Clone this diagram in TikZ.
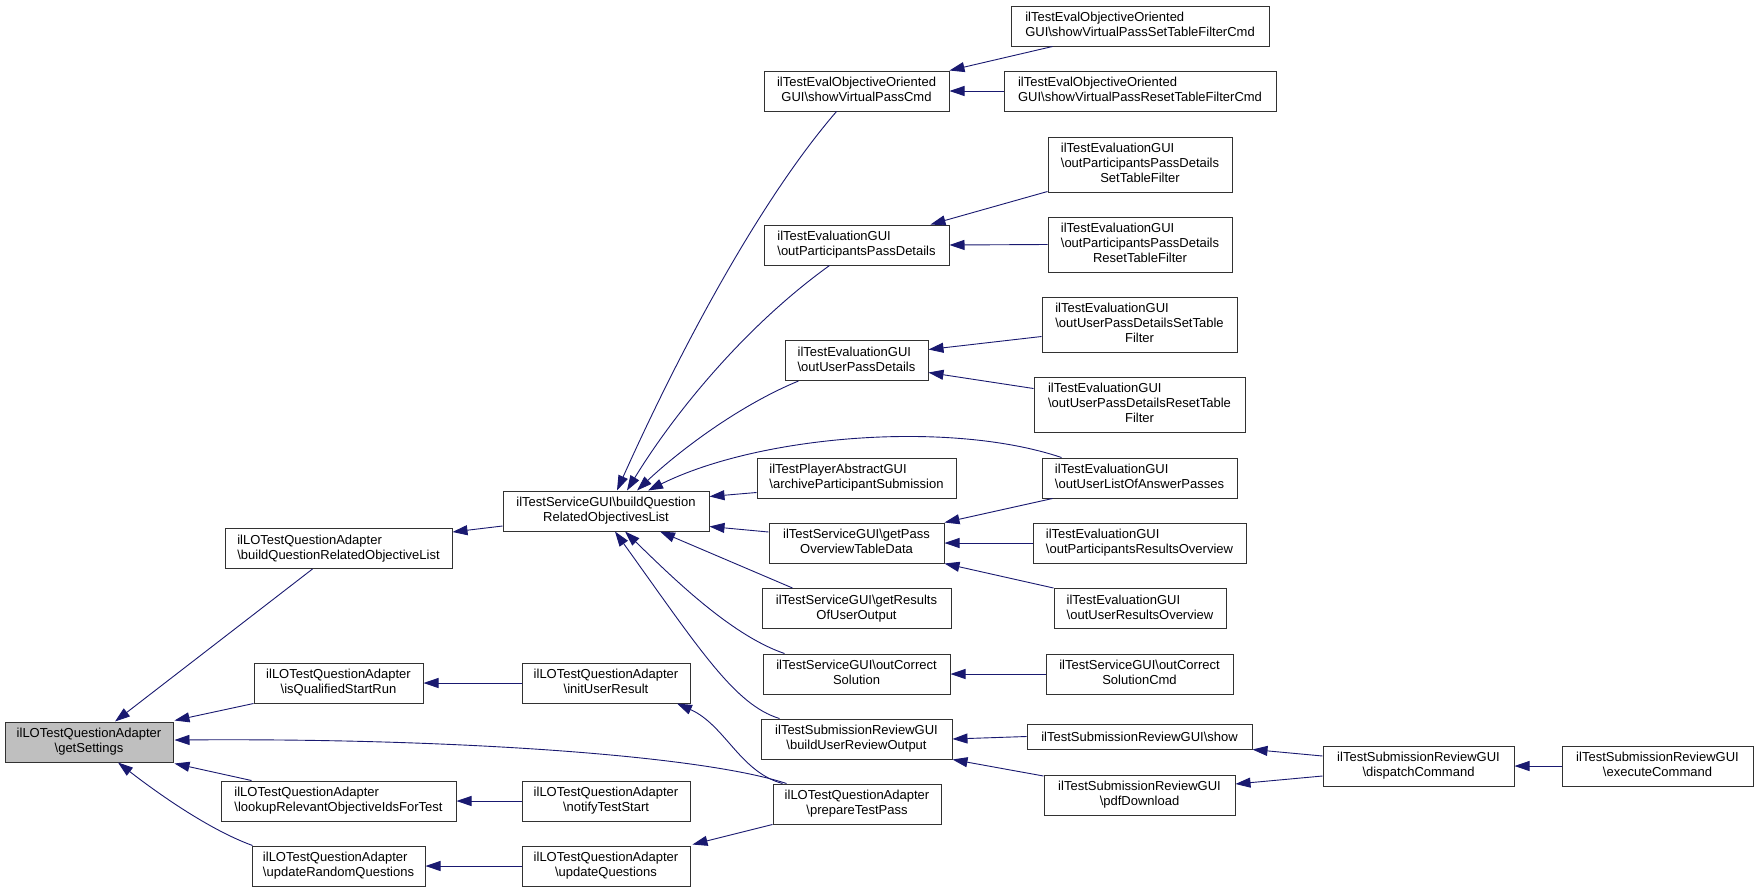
\documentclass[tikz,border=0pt]{standalone}
\usepackage{fontspec}
\setmainfont{Liberation Sans}
\usetikzlibrary{arrows.meta,calc}
\definecolor{edgec}{RGB}{25,25,112}
\definecolor{boxc}{RGB}{50,50,50}
\definecolor{gsfill}{RGB}{191,191,191}
\newcommand\fs{\fontsize{13}{15}\selectfont}
\newlength\wA \newlength\wB \newlength\wC
\newcommand\LL[2]{\settowidth\wA{#1}\settowidth\wB{#2}\ifdim\wB>\wA \wA=\wB\fi
 \begin{tabular}{@{}c@{}}\makebox[\wA][l]{#1}\\\makebox[\wA][c]{#2}\end{tabular}}
\newcommand\LLL[3]{\settowidth\wA{#1}\settowidth\wB{#2}\settowidth\wC{#3}\ifdim\wB>\wA \wA=\wB\fi\ifdim\wC>\wA \wA=\wC\fi
 \begin{tabular}{@{}c@{}}\makebox[\wA][l]{#1}\\\makebox[\wA][l]{#2}\\\makebox[\wA][c]{#3}\end{tabular}}
\newcommand\bs{\textbackslash}
\tikzset{
 box/.style={draw=boxc, line width=1pt, fill=white, inner sep=0pt, font=\fs, minimum height=40pt},
 tall/.style={minimum height=55pt},
 edge/.style={draw=edgec, line width=0.9pt, {Triangle[length=15pt,width=10pt]}-}
}
\begin{document}
\begin{tikzpicture}[x=1pt,y=-1pt]
\useasboundingbox[fill=white] (0,0) rectangle (1759,892);
% column 1
\node[box,fill=gsfill,minimum width=168pt] (gs) at (89,742) {\LL{ilLOTestQuestionAdapter}{\bs getSettings}};
% column 2
\node[box,minimum width=227pt] (bqol) at (338.5,548.5) {\LL{ilLOTestQuestionAdapter}{\bs buildQuestionRelatedObjectiveList}};
\node[box,minimum width=169pt] (isq) at (338.5,683) {\LL{ilLOTestQuestionAdapter}{\bs isQualifiedStartRun}};
\node[box,minimum width=235pt] (lookup) at (338.5,801) {\LL{ilLOTestQuestionAdapter}{\bs lookupRelevantObjectiveIdsForTest}};
\node[box,minimum width=173pt] (urq) at (338.5,866) {\LL{ilLOTestQuestionAdapter}{\bs updateRandomQuestions}};
% column 3
\node[box,minimum width=206pt] (bq) at (606,511) {\LL{ilTestServiceGUI\bs buildQuestion}{RelatedObjectivesList}};
\node[box,minimum width=168pt] (iur) at (606,683) {\LL{ilLOTestQuestionAdapter}{\bs initUserResult}};
\node[box,minimum width=168pt] (notify) at (606,801) {\LL{ilLOTestQuestionAdapter}{\bs notifyTestStart}};
\node[box,minimum width=168pt] (uq) at (606,866) {\LL{ilLOTestQuestionAdapter}{\bs updateQuestions}};
% column 4
\node[box,minimum width=185pt] (svp) at (856.5,91) {\LL{ilTestEvalObjectiveOriented}{GUI\bs showVirtualPassCmd}};
\node[box,minimum width=185pt] (opd) at (856.5,245) {\LL{ilTestEvaluationGUI}{\bs outParticipantsPassDetails}};
\node[box,minimum width=143pt] (oupd) at (856.5,360.5) {\LL{ilTestEvaluationGUI}{\bs outUserPassDetails}};
\node[box,minimum width=199pt] (arch) at (856.5,478) {\LL{ilTestPlayerAbstractGUI}{\bs archiveParticipantSubmission}};
\node[box,minimum width=175pt] (gpo) at (856.5,543) {\LL{ilTestServiceGUI\bs getPass}{OverviewTableData}};
\node[box,minimum width=189pt] (gro) at (856.5,608.5) {\LL{ilTestServiceGUI\bs getResults}{OfUserOutput}};
\node[box,minimum width=187pt] (ocs) at (856.5,674) {\LL{ilTestServiceGUI\bs outCorrect}{Solution}};
\node[box,minimum width=191pt] (buro) at (856.5,739) {\LL{ilTestSubmissionReviewGUI}{\bs buildUserReviewOutput}};
\node[box,minimum width=168pt] (ptp) at (857,804) {\LL{ilLOTestQuestionAdapter}{\bs prepareTestPass}};
% column 5
\node[box,minimum width=258pt] (svpset) at (1140,26) {\LL{ilTestEvalObjectiveOriented}{GUI\bs showVirtualPassSetTableFilterCmd}};
\node[box,minimum width=272pt] (svpreset) at (1140,91) {\LL{ilTestEvalObjectiveOriented}{GUI\bs showVirtualPassResetTableFilterCmd}};
\node[box,tall,minimum width=184pt] (opdset) at (1140,164.5) {\LLL{ilTestEvaluationGUI}{\bs outParticipantsPassDetails}{SetTableFilter}};
\node[box,tall,minimum width=184pt] (opdreset) at (1140,244.5) {\LLL{ilTestEvaluationGUI}{\bs outParticipantsPassDetails}{ResetTableFilter}};
\node[box,tall,minimum width=195pt] (oupdset) at (1139.5,324.5) {\LLL{ilTestEvaluationGUI}{\bs outUserPassDetailsSetTable}{Filter}};
\node[box,tall,minimum width=211pt] (oupdreset) at (1139.5,404.5) {\LLL{ilTestEvaluationGUI}{\bs outUserPassDetailsResetTable}{Filter}};
\node[box,minimum width=195pt] (oulap) at (1139.5,478) {\LL{ilTestEvaluationGUI}{\bs outUserListOfAnswerPasses}};
\node[box,minimum width=213pt] (opro) at (1139.5,543) {\LL{ilTestEvaluationGUI}{\bs outParticipantsResultsOverview}};
\node[box,minimum width=172pt] (uro) at (1140,608.5) {\LL{ilTestEvaluationGUI}{\bs outUserResultsOverview}};
\node[box,minimum width=187pt] (ocsc) at (1139.5,674) {\LL{ilTestServiceGUI\bs outCorrect}{SolutionCmd}};
\node[box,minimum width=225pt,minimum height=25pt] (show) at (1139.5,736.5) {ilTestSubmissionReviewGUI\bs show};
\node[box,minimum width=191pt] (pdf) at (1139.5,795) {\LL{ilTestSubmissionReviewGUI}{\bs pdfDownload}};
% column 6,7
\node[box,minimum width=191pt] (disp) at (1418.5,766) {\LL{ilTestSubmissionReviewGUI}{\bs dispatchCommand}};
\node[box,minimum width=191pt] (exec) at (1657.5,766) {\LL{ilTestSubmissionReviewGUI}{\bs executeCommand}};

% edges into getSettings
\draw[edge] ($(gs.north)+(26,0)$) -- ($(bqol.south)+(-26,0)$);
\draw[edge] ($(gs.north east)+(1,-1)$) -- (isq.south west);
\draw[edge] ($(gs.east)+(1,-2)$) .. controls (450,738) and (700,755) .. ($(ptp.north west)+(14,0)$);
\draw[edge] ($(gs.south east)+(1,1)$) -- ($(lookup.north west)+(31,0)$);
\draw[edge] ($(gs.south)+(29,0)$) .. controls (160,795) and (210,830) .. ($(urq.north west)+(1,0)$);
% column 2 incoming
\draw[edge] ($(bqol.north east)+(0,4)$) -- ($(bq.west)+(0,15)$);
\draw[edge] (isq.east) -- (iur.west);
\draw[edge] (lookup.east) -- (notify.west);
\draw[edge] (urq.east) -- (uq.west);
% column 3 incoming
\draw[edge] ($(iur.south)+(71,0)$) .. controls (725,725) and (740,772) .. ($(ptp.north west)+(10,0)$);
\draw[edge] ($(uq.north east)+(2,-1)$) -- (ptp.south west);
\draw[edge] ($(bq.north)+(11,0)$) .. controls (680,350) and (760,200) .. ($(svp.south)+(-20,0)$);
\draw[edge] ($(bq.north)+(21,0)$) .. controls (670,420) and (740,330) .. ($(opd.south)+(-27,0)$);
\draw[edge] ($(bq.north)+(31,0)$) .. controls (680,450) and (740,405) .. ($(oupd.south)+(-58,0)$);
\draw[edge] ($(bq.north)+(42,0)$) .. controls (760,435) and (950,420) .. ($(oulap.north west)+(20,0)$);
\draw[edge] ($(bq.north east)+(0,6)$) -- ($(arch.south west)+(0,-6)$);
\draw[edge] ($(bq.south east)+(0,-5)$) -- ($(gpo.west)+(0,-11)$);
\draw[edge] ($(bq.south)+(54,0)$) -- ($(gro.north west)+(31,0)$);
\draw[edge] ($(bq.south)+(19,0)$) .. controls (670,575) and (730,635) .. ($(ocs.north west)+(22,0)$);
\draw[edge] ($(bq.south)+(9,0)$) .. controls (700,650) and (735,705) .. ($(buro.north west)+(19,0)$);
% column 4 incoming
\draw[edge] (svp.north east) -- ($(svpset.south west)+(42,0)$);
\draw[edge] (svp.east) -- (svpreset.west);
\draw[edge] ($(opd.north east)+(-19,0)$) -- ($(opdset.south west)+(0,-1)$);
\draw[edge] (opd.east) -- (opdreset.west);
\draw[edge] ($(oupd.east)+(0,-11)$) -- ($(oupdset.west)+(0,12)$);
\draw[edge] ($(oupd.east)+(0,12)$) -- ($(oupdreset.west)+(0,-16)$);
\draw[edge] (gpo.north east) -- ($(oulap.south west)+(11,0)$);
\draw[edge] (gpo.east) -- (opro.west);
\draw[edge] (gpo.south east) -- (uro.north west);
\draw[edge] (ocs.east) -- (ocsc.west);
\draw[edge] (buro.east) -- (show.west);
\draw[edge] (buro.south east) -- ($(pdf.west)+(0,-19)$);
% column 5 incoming
\draw[edge] (show.south east) -- ($(disp.west)+(0,-10)$);
\draw[edge] ($(pdf.east)+(0,-11)$) -- ($(disp.west)+(0,10)$);
\draw[edge] (disp.east) -- (exec.west);
\end{tikzpicture}
\end{document}
